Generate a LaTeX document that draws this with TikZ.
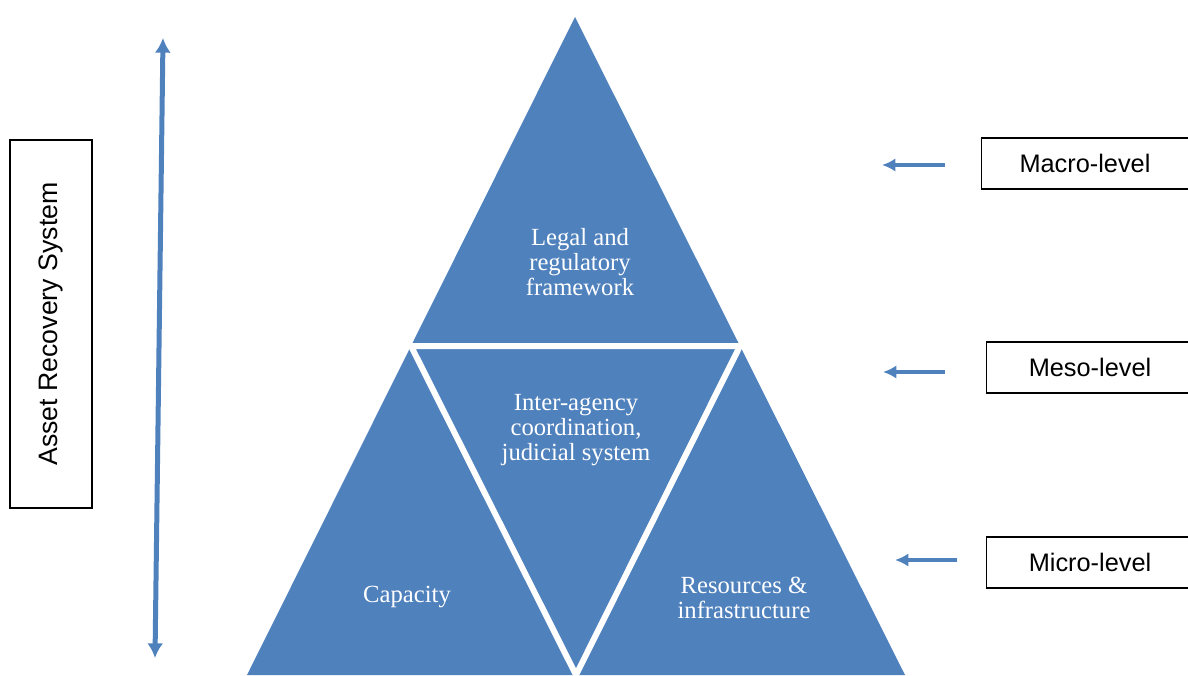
\documentclass[tikz,border=0pt]{standalone}
\usepackage{fontspec}
\setmainfont{Liberation Serif}
\setsansfont{Liberation Sans}
\usetikzlibrary{arrows.meta,calc}
\tikzset{>={Latex[width=10pt,length=10pt]}}
\definecolor{pyrblue}{HTML}{4F81BD}

\begin{document}
\begin{tikzpicture}[x=0.75pt,y=-0.75pt]
    \tikzset{level/.style={rectangle,draw,line width=1.1pt,minimum width=155.25pt,minimum height=38.25pt,font=\sffamily\fontsize{19}{22}\selectfont}}
    \tikzset{system/.style={rectangle,draw,line width=1.1pt,rotate=90,minimum width=276pt,minimum height=61.5pt,font=\sffamily\fontsize{20}{24}\selectfont}}
    \tikzset{tritext/.style={align=center,text=white,font=\fontsize{18.5}{18.75}\selectfont}}
    \tikzset{levelarrow/.style={->,draw=pyrblue,line width=3pt}}
    \tikzset{sysarrow/.style={<->,draw=pyrblue,line width=3.75pt,>={Latex[width=12pt,length=11pt]}}}
    \useasboundingbox (0,0) rectangle (1188,675);
    % pyramid
    \coordinate (apex) at (575,17);
    \coordinate (bl) at (247,675);
    \coordinate (br) at (905,675);
    \coordinate (ml) at ($(apex)!0.5!(bl)$);
    \coordinate (mr) at ($(apex)!0.5!(br)$);
    \coordinate (mb) at ($(bl)!0.5!(br)$);
    \fill[pyrblue] (apex) -- (bl) -- (br) -- cycle;
    \draw[white,line width=4.5pt] (ml) -- (mr) -- (mb) -- cycle;
    \draw (580,262) node[tritext](legal){Legal and\\regulatory\\framework};
    \draw (576,430) node[tritext](inter){Inter-agency\\coordination,\\judicial system};
    \draw (407,597) node[tritext](capacity){Capacity};
    \draw (744,598) node[tritext](resources){Resources \&\\infrastructure};
    % levels
    \draw (1085,163.5) node[level](macro){Macro-level};
    \draw (1090,367.5) node[level](meso){Meso-level};
    \draw (1090,562.5) node[level](micro){Micro-level};
    \coordinate (macrofrom) at (945,165);
    \coordinate (macroto) at (882,165);
    \coordinate (mesofrom) at (945,372);
    \coordinate (mesoto) at (883,372);
    \coordinate (microfrom) at (957,560);
    \coordinate (microto) at (895,560);
    \draw[levelarrow] (macrofrom) -- (macroto);
    \draw[levelarrow] (mesofrom) -- (mesoto);
    \draw[levelarrow] (microfrom) -- (microto);
    % system
    \draw (51,324) node[system](ars){Asset Recovery System};
    \coordinate (systop) at (163,38);
    \coordinate (sysbot) at (155,658);
    \draw[sysarrow] (sysbot) -- (systop);
\end{tikzpicture}
\end{document}
